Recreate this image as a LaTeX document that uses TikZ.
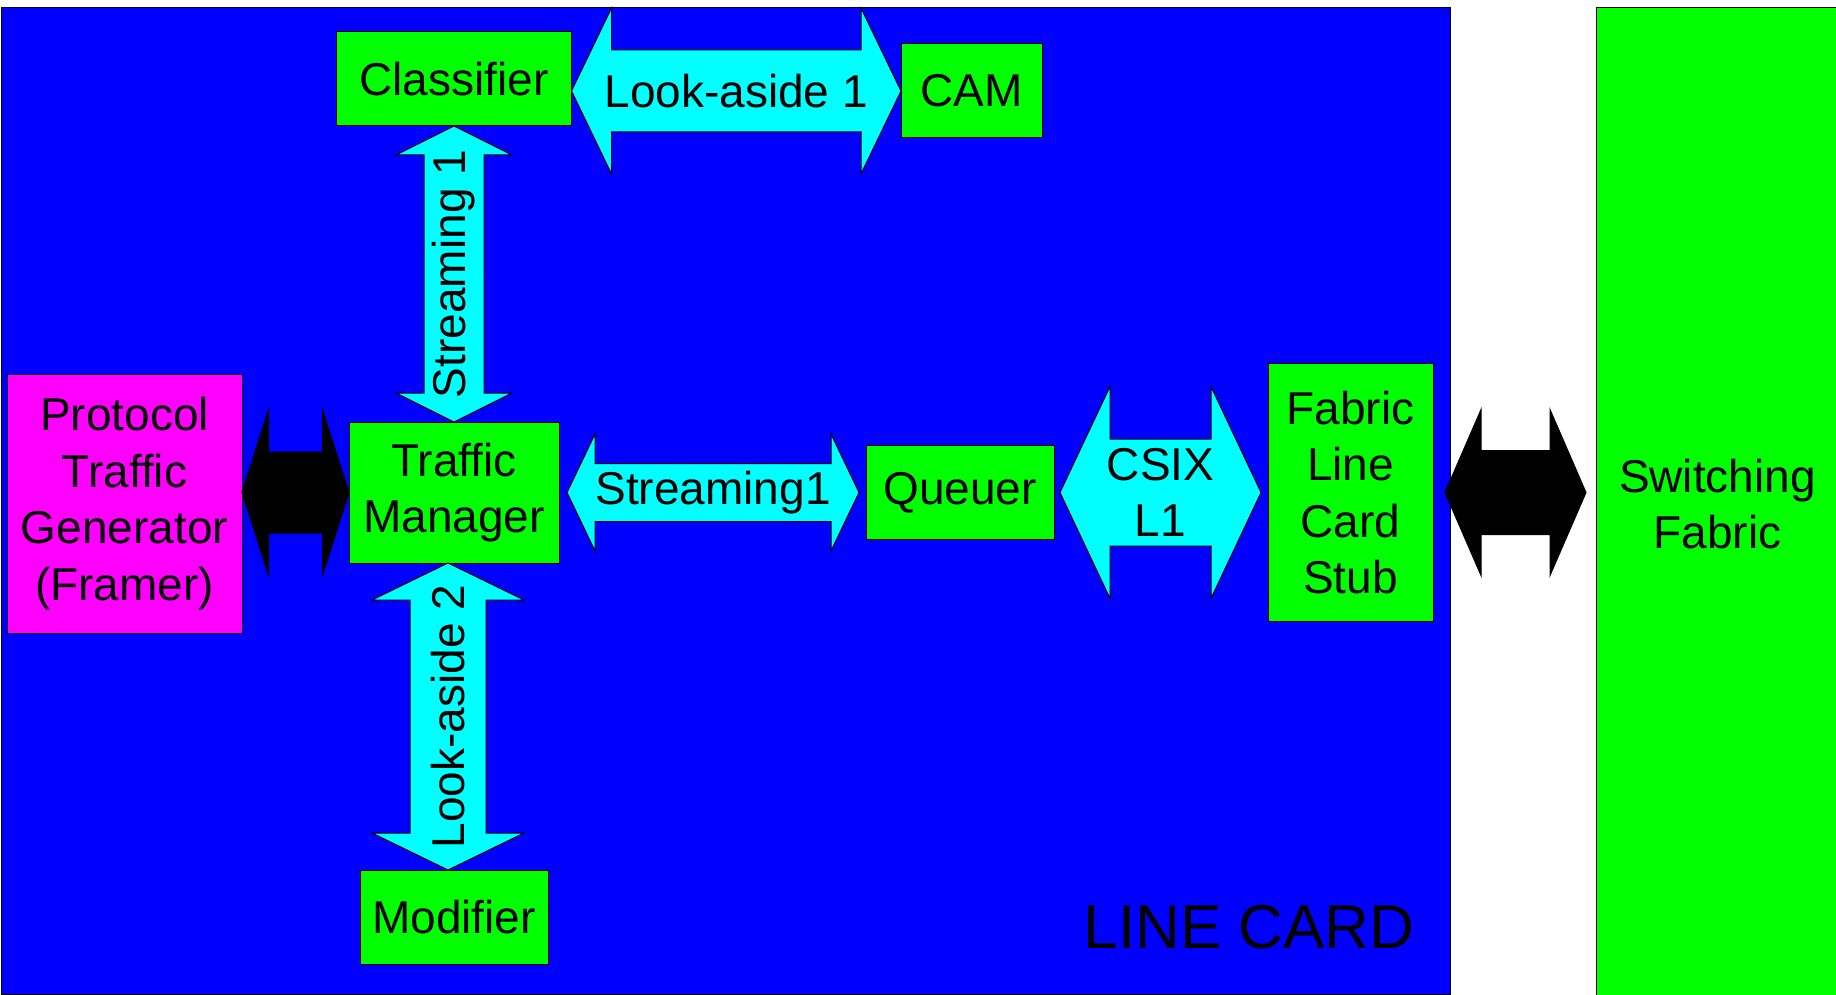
\documentclass[tikz,border=0pt]{standalone}
\usepackage{fontspec}
\setmainfont{Liberation Sans}
\usetikzlibrary{positioning,calc}
\definecolor{cardblue}{RGB}{0,0,255}
\definecolor{boxgreen}{RGB}{0,255,0}
\definecolor{linkcyan}{RGB}{0,255,255}
\definecolor{genmagenta}{RGB}{255,0,255}
\newcommand{\BoxFont}{\fontsize{46}{56.5}\selectfont}
\newcommand{\CardFont}{\fontsize{62}{74}\selectfont}
\tikzstyle{Block} = [draw, rectangle, fill=boxgreen, inner sep=0pt, outer sep=0pt, align=center, font=\BoxFont]
\tikzstyle{Label} = [inner sep=0pt, align=center, font=\BoxFont]
\tikzstyle{Link}  = [draw, fill=linkcyan]
\tikzstyle{Wire}  = [draw, fill=black]
% block arrow, left tip #2, right tip #3, shaft #4, head #5, head length #6
\newcommand{\HArrow}[7]{%
  \path[#1] let \p1=(#2), \p2=(#3) in
    (\x1,\y1) -- (\x1+#6pt,\y1+#5pt) -- (\x1+#6pt,\y1+#4pt)
    -- (\x2-#6pt,\y1+#4pt) -- (\x2-#6pt,\y1+#5pt) -- (\x2,\y1)
    -- (\x2-#6pt,\y1-#5pt) -- (\x2-#6pt,\y1-#4pt)
    -- (\x1+#6pt,\y1-#4pt) -- (\x1+#6pt,\y1-#5pt) -- cycle
    (\x1/2+\x2/2,\y1) coordinate (#7);}
% same, upright: top tip #2, bottom tip #3
\newcommand{\VArrow}[7]{%
  \path[#1] let \p1=(#2), \p2=(#3) in
    (\x1,\y1) -- (\x1+#5pt,\y1-#6pt) -- (\x1+#4pt,\y1-#6pt)
    -- (\x1+#4pt,\y2+#6pt) -- (\x1+#5pt,\y2+#6pt) -- (\x1,\y2)
    -- (\x1-#5pt,\y2+#6pt) -- (\x1-#4pt,\y2+#6pt)
    -- (\x1-#4pt,\y1-#6pt) -- (\x1-#5pt,\y1-#6pt) -- cycle
    (\x1,\y1/2+\y2/2) coordinate (#7);}

\begin{document}
\begin{tikzpicture}[x=1pt, y=-1pt, line width=1pt]
    \useasboundingbox (0,0) rectangle (1836,995);
    \node[draw, fill=cardblue, minimum width=1449pt, minimum height=986pt] (linecard) at (725.5,501) {};
    \node[font=\CardFont, anchor=base east, inner sep=0pt] (cardname) at (1415,948) {LINE CARD};
    \node[Block, minimum width=243pt, minimum height=992pt] (switch) at (1717.5,504) {Switching\\Fabric};

    \node[Block, minimum width=210pt, minimum height=141pt] (tm) at (454,492.5) {Traffic\\Manager};
    \node[Block, minimum width=235pt, minimum height=94pt]  (classifier) [above=296pt of tm] {Classifier};
    \node[Block, minimum width=188pt, minimum height=94pt]  (modifier)   [below=307pt of tm] {Modifier};
    \node[Block, minimum width=188pt, minimum height=94pt]  (queuer)     [right=307pt of tm] {Queuer};
    \node[Block, minimum width=165pt, minimum height=258pt] (stub)       [right=214pt of queuer] {Fabric\\Line\\Card\\Stub};
    \node[Block, minimum width=141pt, minimum height=94pt]  (cam)        at (971.5,91) {CAM};
    \node[Block, fill=genmagenta, minimum width=235pt, minimum height=259pt] (protocol) at (124.5,503.5) {Protocol\\Traffic\\Generator\\(Framer)};

    \HArrow{Link}{classifier.east |- cam.west}{cam.west}{41}{83}{40}{la1mid}
    \VArrow{Link}{classifier.south}{tm.north}{30}{58}{29}{st1mid}
    \VArrow{Link}{[xshift=-6pt]tm.south}{[xshift=-6pt]modifier.north}{38}{76}{37}{la2mid}
    \HArrow{Link}{[xshift=8pt]tm.east}{[xshift=-7pt]queuer.west}{29}{58.5}{28}{st2mid}
    \HArrow{Link}{[xshift=6pt]queuer.east}{[xshift=-7pt]stub.west}{53.5}{106}{50}{csmid}
    \HArrow{Wire}{protocol.east |- tm.west}{tm.west}{40.5}{82.5}{26.5}{bk1mid}
    \HArrow{Wire}{[xshift=12pt]stub.east}{[xshift=-10pt]switch.west}{42}{83}{36}{bk2mid}

    \node[Label] (la1) at (la1mid) {Look-aside 1};
    \node[Label, rotate=90] (st1) at (st1mid) {Streaming 1};
    \node[Label, rotate=90] (la2) at (la2mid) {Look-aside 2};
    \node[Label] (st2) at (st2mid) {Streaming1};
    \node[Label] (csix) at (csmid) {CSIX\\L1};
\end{tikzpicture}
\end{document}
